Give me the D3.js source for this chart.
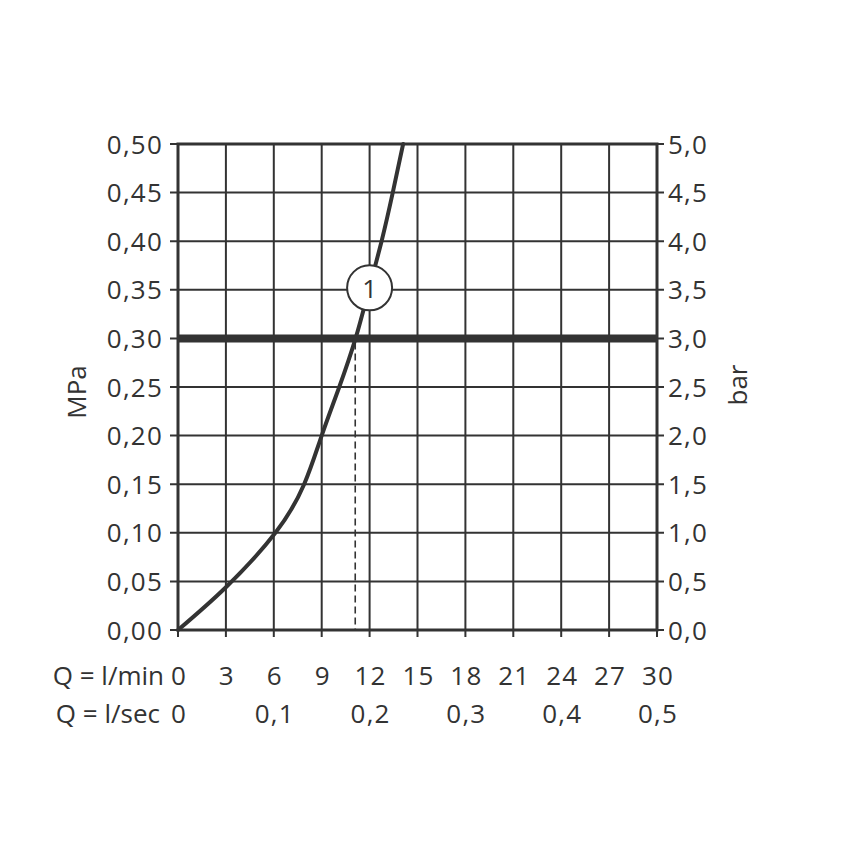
<!DOCTYPE html>
<html><head><meta charset="utf-8">
<script src="https://cdn.jsdelivr.net/npm/d3@7"></script>
<style>
html,body{margin:0;padding:0;background:#fff;}
text{font-family:"Open Sans",sans-serif;fill:#333;}
</style></head>
<body><svg id="c" width="848" height="848"></svg>
<script>
const flowLpm = [0, 3, 6.1, 7.9, 9.0, 10.1, 11.12, 11.95, 12.75, 13.45, 14.1];
const pressureMPa = [0, 0.044, 0.1, 0.15, 0.2, 0.25, 0.3, 0.35, 0.4, 0.45, 0.5];
const xTicksLpm = [0, 3, 6, 9, 12, 15, 18, 21, 24, 27, 30];
const secTicks = [0, 0.1, 0.2, 0.3, 0.4, 0.5];
const secLabels = ["0", "0,1", "0,2", "0,3", "0,4", "0,5"];
const yTicksMPa = [0, 0.05, 0.1, 0.15, 0.2, 0.25, 0.3, 0.35, 0.4, 0.45, 0.5];
const refPressure = 0.3;
const refFlow = 11.1;
const markerLabel = "1";
const markerPoint = [12, 0.35];

const svg = d3.select("#c");
const L = 178, R = 657, T = 144, B = 630;
const x = d3.scaleLinear().domain([0, 30]).range([L, R]);
const y = d3.scaleLinear().domain([0, 0.5]).range([B, T]);
const col = "#333";

const g = svg.append("g");
g.selectAll(".vx").data(xTicksLpm).join("line")
  .attr("x1", d => x(d)).attr("x2", d => x(d)).attr("y1", T).attr("y2", B + 7)
  .attr("stroke", col).attr("stroke-width", 2);
g.selectAll(".hy").data(yTicksMPa).join("line")
  .attr("x1", L - 8).attr("x2", R + 7).attr("y1", d => y(d)).attr("y2", d => y(d))
  .attr("stroke", col).attr("stroke-width", 2);
g.append("rect").attr("x", L).attr("y", T).attr("width", R - L).attr("height", B - T)
  .attr("fill", "none").attr("stroke", col).attr("stroke-width", 3);

g.append("line").attr("x1", L).attr("x2", R).attr("y1", y(refPressure)).attr("y2", y(refPressure))
  .attr("stroke", col).attr("stroke-width", 8);
g.append("line").attr("x1", x(refFlow)).attr("x2", x(refFlow)).attr("y1", y(refPressure) + 4).attr("y2", B)
  .attr("stroke", col).attr("stroke-width", 1.6).attr("stroke-dasharray", "7,4");

const pts = flowLpm.map((f, i) => [f, pressureMPa[i]]);
g.append("path").datum(pts)
  .attr("d", d3.line().x(d => x(d[0])).y(d => y(d[1])).curve(d3.curveNatural))
  .attr("fill", "none").attr("stroke", col).attr("stroke-width", 4).attr("stroke-linecap", "round");

g.append("circle").attr("cx", x(markerPoint[0])).attr("cy", y(markerPoint[1]) - 2).attr("r", 22.5)
  .attr("fill", "#fff").attr("stroke", col).attr("stroke-width", 2);
g.append("text").attr("x", x(markerPoint[0])).attr("y", y(markerPoint[1]) + 8)
  .attr("text-anchor", "middle").attr("font-size", 26).style("fill", col).text(markerLabel);

const fs = 26;
const ls = "1.2px";
svg.selectAll(".ly").data(yTicksMPa).join("text")
  .attr("x", 163).attr("y", d => y(d) + 9.5).attr("text-anchor", "end")
  .attr("font-size", fs).attr("letter-spacing", ls).text(d => d3.format(".2f")(d).replace(".", ","));
svg.selectAll(".ry").data(yTicksMPa).join("text")
  .attr("x", 668).attr("y", d => y(d) + 9.5).attr("text-anchor", "start")
  .attr("font-size", fs).attr("letter-spacing", ls).text(d => d3.format(".1f")(d * 10).replace(".", ","));

svg.selectAll(".bx").data(xTicksLpm).join("text")
  .attr("x", d => x(d) + 1).attr("y", 685).attr("text-anchor", "middle")
  .attr("font-size", fs).attr("letter-spacing", ls).text(d => d);
svg.selectAll(".bs").data(secTicks).join("text")
  .attr("x", d => x(d * 60) + 1).attr("y", 723).attr("text-anchor", "middle")
  .attr("font-size", fs).attr("letter-spacing", ls).text((d, i) => secLabels[i]);
svg.append("text").attr("x", 164).attr("y", 685).attr("text-anchor", "end").attr("font-size", fs).text("Q = l/min");
svg.append("text").attr("x", 160).attr("y", 723).attr("text-anchor", "end").attr("font-size", fs).text("Q = l/sec");

svg.append("text").attr("transform", "translate(86,392) rotate(-90)").attr("text-anchor", "middle")
  .attr("font-size", fs).text("MPa");
svg.append("text").attr("transform", "translate(747,385) rotate(-90)").attr("text-anchor", "middle")
  .attr("font-size", fs).text("bar");
</script></body></html>
